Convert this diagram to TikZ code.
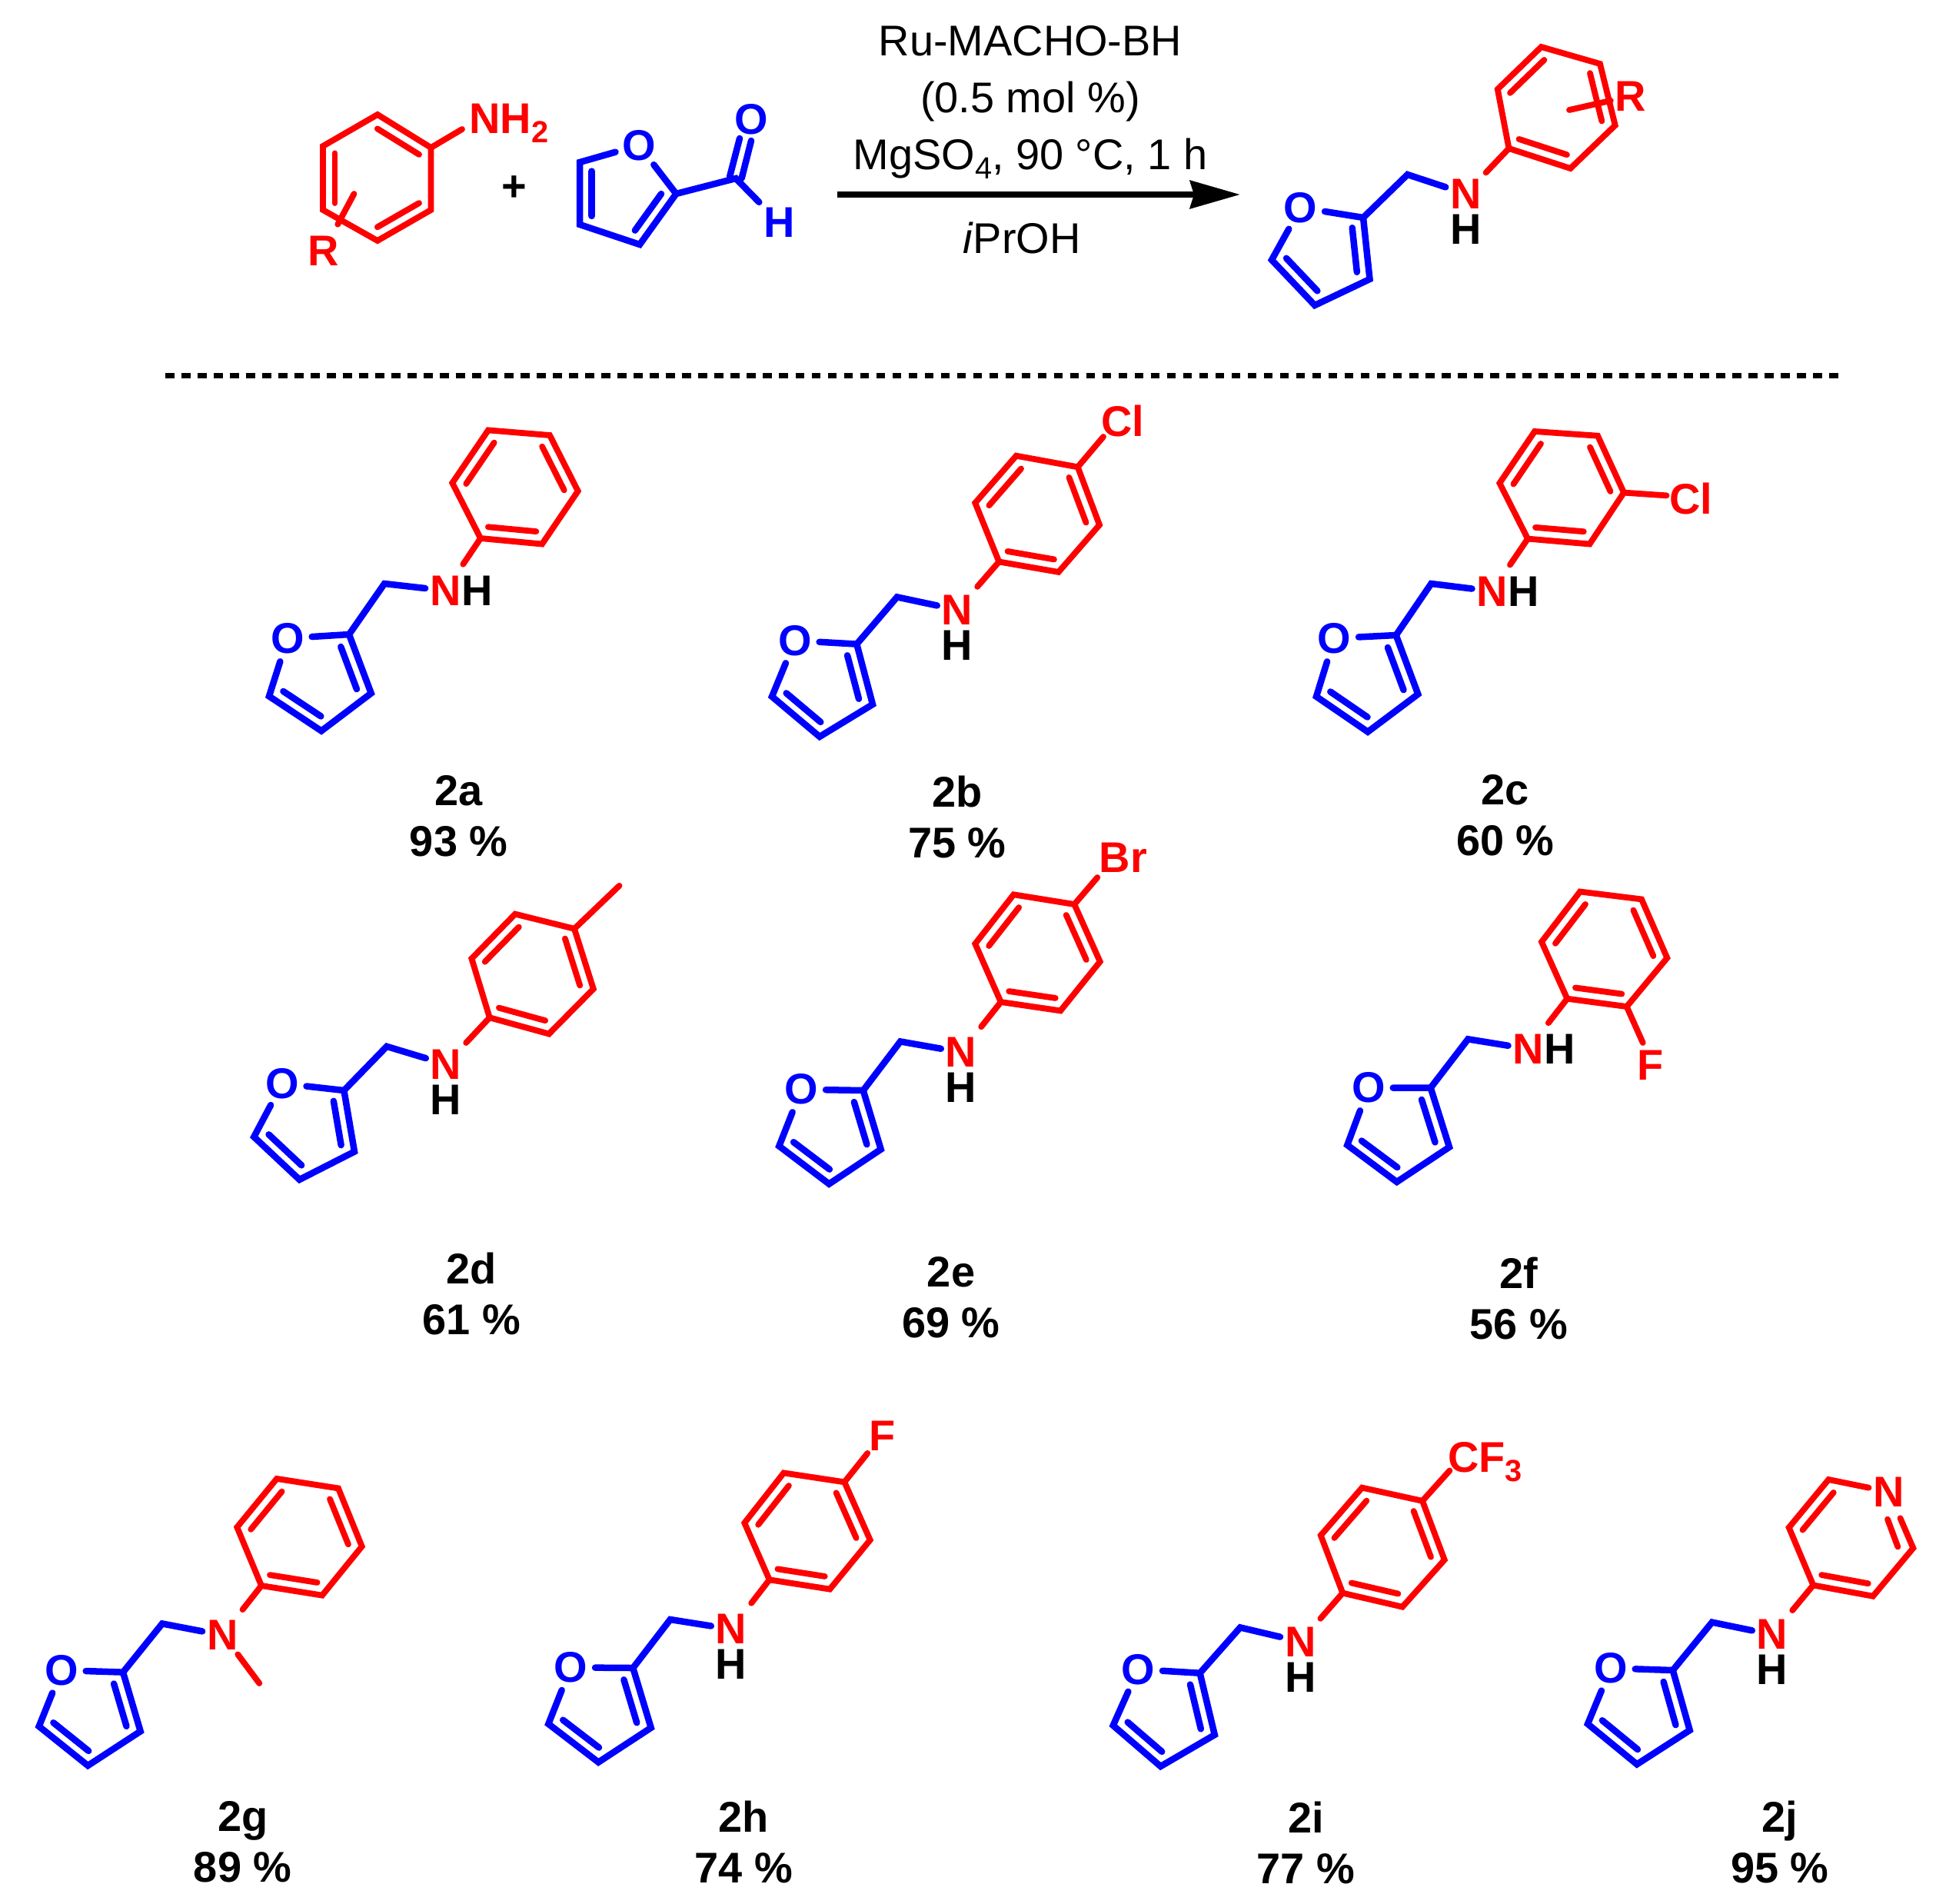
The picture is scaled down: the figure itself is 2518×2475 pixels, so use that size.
\documentclass[tikz,border=0pt]{standalone}
\usepackage{fontspec}
\setmainfont{Liberation Sans}
\usetikzlibrary{arrows.meta,calc,positioning}

\newcommand{\labfont}{\fontsize{15.9}{15.9}\selectfont\bfseries}
\newcommand{\condfont}{\fontsize{15.9}{15.9}\selectfont}
\newcommand{\sbs}[1]{\raisebox{-.12cm}{\fontsize{11.3}{11.3}\selectfont #1}}

\tikzset{
    bluebond/.style={blue,line width=.085cm,line cap=round},
    redbond/.style={red,line width=.078cm,line cap=round},
    atomlabel/.style={rectangle,inner sep=0pt,outer xsep=.06cm,outer ysep=.15cm,font=\labfont},
    oxygen/.style={circle,minimum size=.62cm,inner sep=0pt,blue,font=\labfont},
    condtext/.style={anchor=base,inner sep=0pt,font=\condfont},
    yieldtext/.style={anchor=base,inner sep=0pt,font=\labfont},
}

% Furan ring with CH2 arm: name, O, C2, C3, C4, C5, CH2.
\newcommand{\furyl}[7]{
    \node[oxygen] (#1-O) at (#2) {O};
    \coordinate (#1-c2) at (#3);
    \coordinate (#1-c3) at (#4);
    \coordinate (#1-c4) at (#5);
    \coordinate (#1-c5) at (#6);
    \coordinate (#1-ch) at (#7);
    \coordinate (#1-fc) at ($.2*(#2)+.2*(#3)+.2*(#4)+.2*(#5)+.2*(#6)$);
    \draw[bluebond] (#1-O) -- (#1-c2) -- (#1-c3) -- (#1-c4) -- (#1-c5) -- (#1-O);
    \draw[bluebond] ($(#1-fc)!.72!(#1-c2)$) -- ($(#1-fc)!.72!(#1-c3)$);
    \draw[bluebond] ($(#1-fc)!.72!(#1-c4)$) -- ($(#1-fc)!.72!(#1-c5)$);
    \draw[bluebond] (#1-c2) -- (#1-ch) -- (#1-N);
}

% Benzene ring: name, then six atoms from the ipso carbon round.
\newcommand{\arene}[7]{
    \coordinate (#1-a) at (#2);
    \coordinate (#1-b) at (#3);
    \coordinate (#1-c) at (#4);
    \coordinate (#1-d) at (#5);
    \coordinate (#1-e) at (#6);
    \coordinate (#1-f) at (#7);
    \coordinate (#1-hc) at ($(#1-a)!.5!(#1-d)$);
    \draw[redbond] (#1-a) -- (#1-b) -- (#1-c) -- (#1-d) -- (#1-e) -- (#1-f) -- cycle;
    \draw[redbond] ($(#1-hc)!.78!(#1-a)$) -- ($(#1-hc)!.78!(#1-b)$);
    \draw[redbond] ($(#1-hc)!.78!(#1-c)$) -- ($(#1-hc)!.78!(#1-d)$);
    \draw[redbond] ($(#1-hc)!.78!(#1-e)$) -- ($(#1-hc)!.78!(#1-f)$);
}

\newcommand{\nitrogen}[2]{\node[atomlabel,red] (#1-N) at (#2) {N};}
\newcommand{\hbelow}[1]{\node[atomlabel] (#1-H) at ($(#1-N)+(0,46)$) {H};}
\newcommand{\hright}[1]{\node[atomlabel] (#1-H) at ($(#1-N)+(41,0)$) {H};}
\newcommand{\yieldlabel}[4]{
    \node[yieldtext] (#1-lab) at (#2) {#3};
    \node[yieldtext] (#1-yield) at ($(#1-lab.base)+(0,66)$) {#4};
}

\begin{document}
\begin{tikzpicture}[x=.01cm,y=-.01cm]

    \useasboundingbox (0,0) rectangle (2518,2475);

    % Draw aniline.
    \arene{an}{560.5,192}{491,149}{420,190}{420,273}{491,313}{560.5,273}
    \node[atomlabel,anchor=base west,red,outer sep=0pt] (an-NH) at (610.6,173) {NH\sbs{2}};
    \coordinate (an-tip) at (601,168);
    \draw[redbond] (an-a) -- (an-tip);
    \node[atomlabel,red] (an-R) at (421,326) {R};
    \coordinate (an-cross) at (460.5,252);
    \draw[redbond] (an-cross) -- (an-R);

    % Draw plus sign.
    \node[atomlabel] (plus) at (668.7,245) {+};

    % Draw furfural.
    \node[oxygen] (fa-O) at (831,189) {O};
    \coordinate (fa-c2) at (879.4,252);
    \coordinate (fa-c3) at (832,318);
    \coordinate (fa-c4) at (754,292);
    \coordinate (fa-c5) at (754,211);
    \coordinate (fa-cho) at (957,232);
    \draw[bluebond] (fa-O) -- (fa-c2) -- (fa-c3) -- (fa-c4) -- (fa-c5) -- (fa-O);
    \coordinate (fa-fc) at ($.2*(fa-O)+.2*(fa-c2)+.2*(fa-c3)+.2*(fa-c4)+.2*(fa-c5)$);
    \draw[bluebond] ($(fa-fc)!.72!(fa-c2)$) -- ($(fa-fc)!.72!(fa-c3)$);
    \draw[bluebond] ($(fa-fc)!.72!(fa-c4)$) -- ($(fa-fc)!.72!(fa-c5)$);
    \node[oxygen] (fa-Oc) at (977,155) {O};
    \node[atomlabel,blue] (fa-H) at (1013.5,289.6) {H};
    \draw[bluebond] (fa-c2) -- (fa-cho) -- (fa-H);
    \coordinate (fa-d1a) at (949,230);
    \coordinate (fa-d1b) at (962,180);
    \coordinate (fa-d2a) at (964.6,232);
    \coordinate (fa-d2b) at (977,183);
    \draw[bluebond] (fa-d1a) -- (fa-d1b);
    \draw[bluebond] (fa-d2a) -- (fa-d2b);

    % Draw arrow and conditions.
    \coordinate (arrowstart) at (1089,253);
    \coordinate (arrowtip) at (1613,253);
    \draw[line width=.08cm,-{Stealth[length=.65cm,width=.36cm,inset=.05cm]}] (arrowstart) -- (arrowtip);
    \node[condtext] (cond1) at (1340,72.7) {Ru-MACHO-BH};
    \node[condtext] (cond2) at (1340,146) {(0.5 mol \%)};
    \node[condtext] (cond3) at (1340,220) {MgSO\sbs{4}, 90 °C, 1 h};
    \node[condtext] (cond4) at (1329,329) {\textit{i}PrOH};

    % Draw product.
    \nitrogen{pr}{1906.4,252}
    \hbelow{pr}
    \furyl{pr}{1691.7,270}{1773,283}{1781.5,363}{1710,397}{1654,338}{1830.6,227}
    \arene{pr}{1962.5,193}{2042.5,219}{2100.7,163}{2081,83}{2004.6,61}{1947.8,116}
    \draw[redbond] (pr-N) -- (pr-a);
    \node[atomlabel,red] (pr-R) at (2121,125) {R};
    \coordinate (pr-cross) at (2041,143);
    \draw[redbond] (pr-cross) -- (pr-R);

    % Draw dashed separator.
    \coordinate (dashstart) at (215,488);
    \coordinate (dashend) at (2398,488);
    \draw[line width=.07cm,dash pattern=on .115cm off .095cm] (dashstart) -- (dashend);

    % Draw 2a.
    \nitrogen{ma}{579.3,768}
    \hright{ma}
    \furyl{ma}{374,830}{454,825}{482.7,901.5}{418,950.5}{350,905.4}{500,759}
    \arene{ma}{625,700}{705,707.5}{751.7,638.6}{715,566}{635,559.4}{588.3,628}
    \draw[redbond] (ma-N) -- (ma-a);
    \yieldlabel{ma}{596.7,1047}{2a}{93 \%}

    % Draw 2b.
    \nitrogen{mb}{1245,793}
    \hbelow{mb}
    \furyl{mb}{1034,833}{1114.3,837.6}{1135,916}{1066,958}{1004,905.8}{1166.7,776.4}
    \arene{mb}{1299.3,730.5}{1376.7,743.9}{1430,682.6}{1401.7,607.3}{1321.7,592.7}{1268.3,654}
    \draw[redbond] (mb-N) -- (mb-a);
    \node[atomlabel,red] (mb-Cl) at (1460,548) {Cl};
    \coordinate (mb-tip) at (1435,568);
    \draw[redbond] (mb-d) -- (mb-tip);
    \yieldlabel{mb}{1245,1049}{2b}{75 \%}

    % Draw 2c.
    \nitrogen{mc}{1940.7,768.8}
    \hright{mc}
    \furyl{mc}{1735.4,830}{1815.7,826}{1844.3,902.7}{1779,951.7}{1712,905.8}{1861.4,759}
    \arene{mc}{1987,700.6}{2067.5,707.5}{2112,640.6}{2078,566.7}{1996,561}{1950.4,628.3}
    \draw[redbond] (mc-N) -- (mc-a);
    \node[atomlabel,red] (mc-Cl) at (2199,649) {Cl};
    \coordinate (mc-tip) at (2167.5,644.4);
    \draw[redbond] (mc-c) -- (mc-tip);
    \yieldlabel{mc}{1957.9,1046}{2c}{60 \%}

    % Draw 2d.
    \nitrogen{md}{580,1384}
    \hbelow{md}
    \furyl{md}{367,1409}{447.4,1418}{461,1497.6}{389.5,1534}{330.3,1478.4}{503,1360.8}
    \arene{md}{636.8,1323.3}{714,1344.5}{771.8,1286}{747,1207.8}{670,1188.6}{613.4,1246.5}
    \draw[redbond] (md-N) -- (md-a);
    \coordinate (md-tip) at (805.5,1151.8);
    \draw[redbond] (md-d) -- (md-tip);
    \yieldlabel{md}{613.4,1669.8}{2d}{61 \%}

    % Draw 2e.
    \nitrogen{me}{1250,1368.3}
    \hbelow{me}
    \furyl{me}{1042.3,1416.7}{1122.7,1418}{1145.7,1494.6}{1078.3,1539.6}{1013.3,1490.4}{1171,1354.4}
    \arene{me}{1301.7,1303}{1379.3,1314.4}{1430.7,1250.5}{1397.3,1176}{1318.3,1163.3}{1268.3,1227.3}
    \draw[redbond] (me-N) -- (me-a);
    \node[atomlabel,red] (me-Br) at (1461,1115) {Br};
    \coordinate (me-tip) at (1427.3,1141);
    \draw[redbond] (me-d) -- (me-tip);
    \yieldlabel{me}{1237,1673.4}{2e}{69 \%}

    % Draw 2f.
    \nitrogen{mf}{1987.7,1364}
    \hright{mf}
    \furyl{mf}{1780,1414.6}{1860.7,1414.6}{1885,1491.7}{1816.7,1537}{1752.3,1489}{1909.3,1351.3}
    \arene{mf}{2038.3,1298.7}{2115.7,1309}{2168.3,1245.7}{2135,1169.4}{2055,1159.5}{2005,1224.8}
    \draw[redbond] (mf-N) -- (mf-a);
    \node[atomlabel,red] (mf-F) at (2147,1385) {F};
    \coordinate (mf-tip) at (2136.7,1356);
    \draw[redbond] (mf-b) -- (mf-tip);
    \yieldlabel{mf}{1975.5,1675.6}{2f}{56 \%}

    % Draw 2g.
    \nitrogen{mg}{289.3,2126.4}
    \furyl{mg}{80,2172}{160,2174.6}{182.7,2251.4}{114.3,2296}{50.7,2245}{211,2111.4}
    \arene{mg}{340,2062}{419,2074.6}{470.7,2011}{440,1935.4}{360,1922.9}{308.3,1986}
    \draw[redbond] (mg-N) -- (mg-a);
    \coordinate (mg-st) at (309.3,2151.4);
    \coordinate (mg-tip) at (337.3,2189);
    \draw[redbond] (mg-st) -- (mg-tip);
    \yieldlabel{mg}{315.7,2381}{2g}{89 \%}

    % Draw 2h.
    \nitrogen{mh}{951,2118.6}
    \hbelow{mh}
    \furyl{mh}{742.3,2168.4}{823.3,2169}{846.7,2246.8}{778.3,2291.6}{713.3,2241.8}{871.7,2106}
    \arene{mh}{1000.7,2054.3}{1079.3,2066.6}{1131.7,2002.6}{1098.3,1927.3}{1019.3,1915.4}{968.3,1980.4}
    \draw[redbond] (mh-N) -- (mh-a);
    \node[atomlabel,red] (mh-F) at (1148,1867) {F};
    \coordinate (mh-tip) at (1128.3,1889.8);
    \draw[redbond] (mh-d) -- (mh-tip);
    \yieldlabel{mh}{967.5,2382.7}{2h}{74 \%}

    % Draw 2i.
    \nitrogen{mi}{1691.2,2134.8}
    \hbelow{mi}
    \furyl{mi}{1480.3,2170.8}{1560.6,2175.7}{1579.8,2256}{1509.5,2297}{1447.7,2243.8}{1613,2116.4}
    \arene{mi}{1746.3,2071.6}{1824,2089.6}{1878.7,2028.4}{1850,1951.8}{1771.5,1934.6}{1717.8,1996.6}
    \draw[redbond] (mi-N) -- (mi-a);
    \node[atomlabel,anchor=base west,red,outer sep=0pt] (mi-CF) at (1883,1914.3) {CF\sbs{3}};
    \coordinate (mi-tip) at (1885.4,1912.4);
    \draw[redbond] (mi-d) -- (mi-tip);
    \yieldlabel{mi}{1698.6,2383.5}{2i}{77 \%}

    % Draw 2j, the ring N sits in the para position.
    \nitrogen{mj}{2305,2125.7}
    \hbelow{mj}
    \furyl{mj}{2095,2169.3}{2175.7,2172}{2197.7,2250}{2129,2294.3}{2065,2241.8}{2226.7,2109.6}
    \coordinate (mj-a) at (2358.3,2061.4);
    \coordinate (mj-b) at (2436,2075.7);
    \coordinate (mj-c) at (2488.3,2013.2);
    \node[atomlabel,red] (mj-Np) at (2456.7,1940) {N};
    \coordinate (mj-e) at (2378.3,1924);
    \coordinate (mj-f) at (2326.7,1986.4);
    \coordinate (mj-hc) at ($(mj-a)!.5!(mj-Np)$);
    \draw[redbond] (mj-Np) -- (mj-c) -- (mj-b) -- (mj-a) -- (mj-f) -- (mj-e) -- (mj-Np);
    \draw[redbond] ($(mj-hc)!.78!(mj-a)$) -- ($(mj-hc)!.78!(mj-b)$);
    \draw[redbond] ($(mj-hc)!.78!(mj-e)$) -- ($(mj-hc)!.78!(mj-f)$);
    \coordinate (mj-in1) at (2455,1975.7);
    \coordinate (mj-in2) at (2468.3,2011.4);
    \draw[redbond] (mj-in1) -- (mj-in2);
    \draw[redbond] (mj-N) -- (mj-a);
    \yieldlabel{mj}{2314.7,2382}{2j}{95 \%}

\end{tikzpicture}
\end{document}
